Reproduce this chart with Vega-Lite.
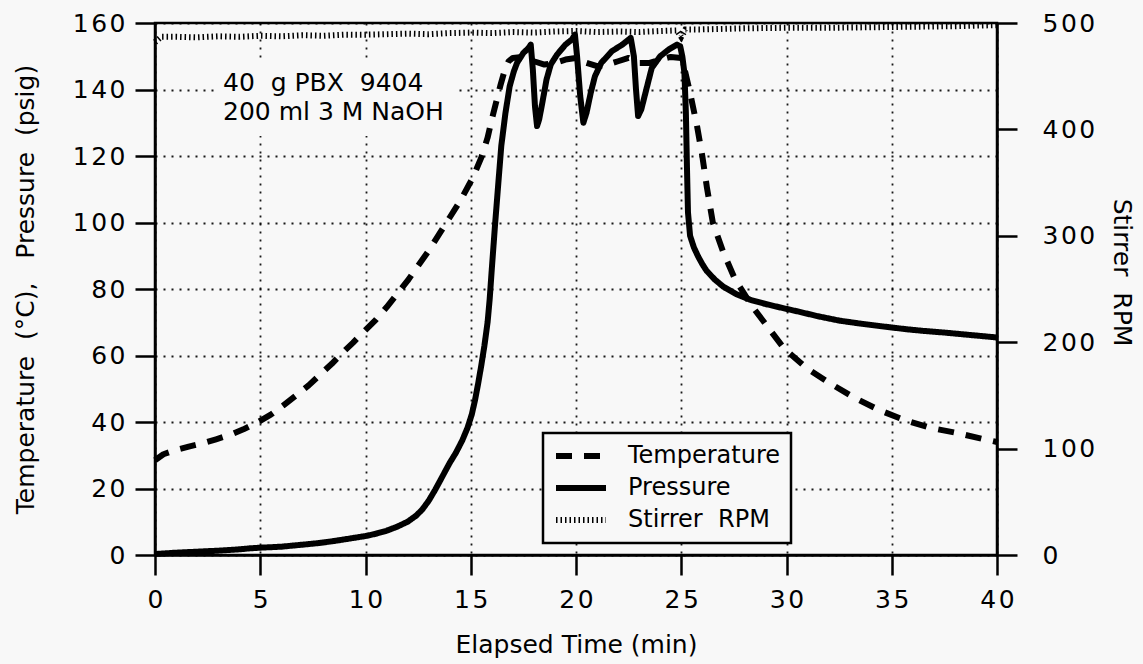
{
  "$schema": "https://vega.github.io/schema/vega-lite/v6.json",
  "autosize": {"type": "none"},
  "padding": {"left": 155, "top": 23, "right": 146, "bottom": 109},
  "width": 842,
  "height": 532,
  "background": "#f8f8f8",
  "config": {
    "view": {"stroke": "black", "strokeWidth": 2.5},
    "font": "DejaVu Sans",
    "axis": {
      "labelFont": "DejaVu Sans", "labelFontSize": 25, "labelColor": "black",
      "titleFont": "DejaVu Sans", "titleFontSize": 25, "titleFontWeight": "normal", "titleColor": "black",
      "domainColor": "black", "domainWidth": 2.5, "tickColor": "black", "tickWidth": 2.5, "tickSize": 20,
      "gridColor": "black", "gridDash": [2, 6], "gridWidth": 1.8, "gridOpacity": 0.9,
      "labelFlush": false, "labelOverlap": false,
      "labelExpr": "join(split(datum.label, ''), '\u200a')"
    },
    "legend": {
      "orient": "none", "legendX": 388, "legendY": 410,
      "padding": 10, "strokeColor": "black", "strokeWidth": 2.5, "fillColor": "#f8f8f8",
      "labelFont": "DejaVu Sans", "labelFontSize": 24, "labelColor": "black", "labelOffset": 19, "labelLimit": 400,
      "symbolSize": 2500, "symbolType": "stroke", "symbolStrokeColor": "black",
      "clipHeight": 26, "rowPadding": 6
    }
  },
  "data": {"values": [
    {"t": 0, "series": "Temperature", "v": 28.5},
    {"t": 0.4, "series": "Temperature", "v": 30.3},
    {"t": 1, "series": "Temperature", "v": 31.6},
    {"t": 1.6, "series": "Temperature", "v": 32.6},
    {"t": 2.2, "series": "Temperature", "v": 33.5},
    {"t": 2.9, "series": "Temperature", "v": 34.8},
    {"t": 3.6, "series": "Temperature", "v": 36.2},
    {"t": 4.2, "series": "Temperature", "v": 37.8},
    {"t": 4.9, "series": "Temperature", "v": 40},
    {"t": 5.5, "series": "Temperature", "v": 42.2},
    {"t": 6.1, "series": "Temperature", "v": 45},
    {"t": 6.7, "series": "Temperature", "v": 48},
    {"t": 7.3, "series": "Temperature", "v": 51},
    {"t": 7.8, "series": "Temperature", "v": 54},
    {"t": 8.4, "series": "Temperature", "v": 57.5},
    {"t": 8.9, "series": "Temperature", "v": 60.8},
    {"t": 9.4, "series": "Temperature", "v": 63.8},
    {"t": 9.9, "series": "Temperature", "v": 67},
    {"t": 10.5, "series": "Temperature", "v": 70.8},
    {"t": 11, "series": "Temperature", "v": 74.5},
    {"t": 11.5, "series": "Temperature", "v": 78.5},
    {"t": 12, "series": "Temperature", "v": 82.5},
    {"t": 12.5, "series": "Temperature", "v": 87},
    {"t": 13, "series": "Temperature", "v": 91.5},
    {"t": 13.5, "series": "Temperature", "v": 96.5},
    {"t": 14, "series": "Temperature", "v": 101.5},
    {"t": 14.5, "series": "Temperature", "v": 106.5},
    {"t": 15.1, "series": "Temperature", "v": 113.5},
    {"t": 15.5, "series": "Temperature", "v": 119.5},
    {"t": 15.8, "series": "Temperature", "v": 125.5},
    {"t": 16, "series": "Temperature", "v": 131},
    {"t": 16.2, "series": "Temperature", "v": 136},
    {"t": 16.4, "series": "Temperature", "v": 141},
    {"t": 16.6, "series": "Temperature", "v": 145.5},
    {"t": 16.8, "series": "Temperature", "v": 148.5},
    {"t": 17, "series": "Temperature", "v": 149.5},
    {"t": 17.5, "series": "Temperature", "v": 149.8},
    {"t": 18, "series": "Temperature", "v": 148.5},
    {"t": 18.5, "series": "Temperature", "v": 147.5},
    {"t": 19, "series": "Temperature", "v": 148},
    {"t": 19.5, "series": "Temperature", "v": 149},
    {"t": 20, "series": "Temperature", "v": 149.5},
    {"t": 20.5, "series": "Temperature", "v": 148},
    {"t": 21, "series": "Temperature", "v": 147},
    {"t": 21.5, "series": "Temperature", "v": 147.5},
    {"t": 22, "series": "Temperature", "v": 148.5},
    {"t": 22.5, "series": "Temperature", "v": 149.5},
    {"t": 23, "series": "Temperature", "v": 148},
    {"t": 23.5, "series": "Temperature", "v": 148},
    {"t": 24, "series": "Temperature", "v": 149},
    {"t": 24.5, "series": "Temperature", "v": 149.8},
    {"t": 25, "series": "Temperature", "v": 149.5},
    {"t": 25.2, "series": "Temperature", "v": 145},
    {"t": 25.42, "series": "Temperature", "v": 139},
    {"t": 25.75, "series": "Temperature", "v": 129},
    {"t": 26, "series": "Temperature", "v": 120},
    {"t": 26.22, "series": "Temperature", "v": 110.5},
    {"t": 26.5, "series": "Temperature", "v": 100},
    {"t": 27, "series": "Temperature", "v": 91},
    {"t": 27.55, "series": "Temperature", "v": 83},
    {"t": 28.4, "series": "Temperature", "v": 74.5},
    {"t": 29.3, "series": "Temperature", "v": 67},
    {"t": 29.9, "series": "Temperature", "v": 62},
    {"t": 31, "series": "Temperature", "v": 56},
    {"t": 32.1, "series": "Temperature", "v": 51.5},
    {"t": 33.25, "series": "Temperature", "v": 47.2},
    {"t": 34.4, "series": "Temperature", "v": 43.6},
    {"t": 35.6, "series": "Temperature", "v": 40.6},
    {"t": 36.8, "series": "Temperature", "v": 38.3},
    {"t": 38.1, "series": "Temperature", "v": 36.7},
    {"t": 39.4, "series": "Temperature", "v": 34.8},
    {"t": 40, "series": "Temperature", "v": 34},

    {"t": 0, "series": "Pressure", "v": 0.3},
    {"t": 0.5, "series": "Pressure", "v": 0.5},
    {"t": 1, "series": "Pressure", "v": 0.7},
    {"t": 2, "series": "Pressure", "v": 1},
    {"t": 3, "series": "Pressure", "v": 1.3},
    {"t": 4, "series": "Pressure", "v": 1.7},
    {"t": 4.5, "series": "Pressure", "v": 2},
    {"t": 5, "series": "Pressure", "v": 2.2},
    {"t": 6, "series": "Pressure", "v": 2.5},
    {"t": 6.5, "series": "Pressure", "v": 2.8},
    {"t": 7, "series": "Pressure", "v": 3.1},
    {"t": 7.8, "series": "Pressure", "v": 3.6},
    {"t": 8.5, "series": "Pressure", "v": 4.2},
    {"t": 9, "series": "Pressure", "v": 4.7},
    {"t": 9.5, "series": "Pressure", "v": 5.2},
    {"t": 10, "series": "Pressure", "v": 5.7},
    {"t": 10.5, "series": "Pressure", "v": 6.4},
    {"t": 11, "series": "Pressure", "v": 7.3},
    {"t": 11.5, "series": "Pressure", "v": 8.5},
    {"t": 12, "series": "Pressure", "v": 10},
    {"t": 12.4, "series": "Pressure", "v": 11.8},
    {"t": 12.7, "series": "Pressure", "v": 13.7},
    {"t": 13, "series": "Pressure", "v": 16.3},
    {"t": 13.3, "series": "Pressure", "v": 19.5},
    {"t": 13.6, "series": "Pressure", "v": 23},
    {"t": 14, "series": "Pressure", "v": 27.7},
    {"t": 14.3, "series": "Pressure", "v": 30.8},
    {"t": 14.6, "series": "Pressure", "v": 34.5},
    {"t": 14.85, "series": "Pressure", "v": 38.3},
    {"t": 15.05, "series": "Pressure", "v": 42.3},
    {"t": 15.2, "series": "Pressure", "v": 46.5},
    {"t": 15.35, "series": "Pressure", "v": 51.5},
    {"t": 15.5, "series": "Pressure", "v": 57},
    {"t": 15.65, "series": "Pressure", "v": 63},
    {"t": 15.8, "series": "Pressure", "v": 70},
    {"t": 15.9, "series": "Pressure", "v": 77},
    {"t": 16, "series": "Pressure", "v": 86},
    {"t": 16.15, "series": "Pressure", "v": 99},
    {"t": 16.3, "series": "Pressure", "v": 111},
    {"t": 16.45, "series": "Pressure", "v": 123},
    {"t": 16.65, "series": "Pressure", "v": 133},
    {"t": 16.85, "series": "Pressure", "v": 141},
    {"t": 17.05, "series": "Pressure", "v": 145.5},
    {"t": 17.2, "series": "Pressure", "v": 148},
    {"t": 17.5, "series": "Pressure", "v": 151},
    {"t": 17.75, "series": "Pressure", "v": 152.5},
    {"t": 17.85, "series": "Pressure", "v": 153.5},
    {"t": 17.95, "series": "Pressure", "v": 146},
    {"t": 18.05, "series": "Pressure", "v": 135},
    {"t": 18.15, "series": "Pressure", "v": 129},
    {"t": 18.25, "series": "Pressure", "v": 131},
    {"t": 18.4, "series": "Pressure", "v": 136},
    {"t": 18.6, "series": "Pressure", "v": 143},
    {"t": 18.8, "series": "Pressure", "v": 147.5},
    {"t": 19.1, "series": "Pressure", "v": 150.5},
    {"t": 19.5, "series": "Pressure", "v": 153.5},
    {"t": 19.8, "series": "Pressure", "v": 155},
    {"t": 19.95, "series": "Pressure", "v": 156.5},
    {"t": 20.05, "series": "Pressure", "v": 150},
    {"t": 20.2, "series": "Pressure", "v": 138},
    {"t": 20.35, "series": "Pressure", "v": 130},
    {"t": 20.5, "series": "Pressure", "v": 133},
    {"t": 20.7, "series": "Pressure", "v": 139},
    {"t": 20.9, "series": "Pressure", "v": 144},
    {"t": 21.2, "series": "Pressure", "v": 148},
    {"t": 21.7, "series": "Pressure", "v": 151.5},
    {"t": 22.2, "series": "Pressure", "v": 153.5},
    {"t": 22.6, "series": "Pressure", "v": 155.5},
    {"t": 22.75, "series": "Pressure", "v": 150},
    {"t": 22.85, "series": "Pressure", "v": 140},
    {"t": 22.95, "series": "Pressure", "v": 132},
    {"t": 23.1, "series": "Pressure", "v": 134},
    {"t": 23.3, "series": "Pressure", "v": 139},
    {"t": 23.6, "series": "Pressure", "v": 146.5},
    {"t": 24, "series": "Pressure", "v": 150},
    {"t": 24.4, "series": "Pressure", "v": 152},
    {"t": 24.8, "series": "Pressure", "v": 153.5},
    {"t": 24.95, "series": "Pressure", "v": 153},
    {"t": 25.05, "series": "Pressure", "v": 150},
    {"t": 25.15, "series": "Pressure", "v": 145},
    {"t": 25.22, "series": "Pressure", "v": 133},
    {"t": 25.27, "series": "Pressure", "v": 117},
    {"t": 25.32, "series": "Pressure", "v": 103},
    {"t": 25.42, "series": "Pressure", "v": 96},
    {"t": 25.6, "series": "Pressure", "v": 92.5},
    {"t": 25.8, "series": "Pressure", "v": 89.8},
    {"t": 26, "series": "Pressure", "v": 87.5},
    {"t": 26.2, "series": "Pressure", "v": 85.5},
    {"t": 26.6, "series": "Pressure", "v": 82.8},
    {"t": 27, "series": "Pressure", "v": 80.7},
    {"t": 27.6, "series": "Pressure", "v": 78.5},
    {"t": 28.3, "series": "Pressure", "v": 76.7},
    {"t": 29, "series": "Pressure", "v": 75.5},
    {"t": 29.8, "series": "Pressure", "v": 74.3},
    {"t": 30.5, "series": "Pressure", "v": 73.3},
    {"t": 31.5, "series": "Pressure", "v": 71.8},
    {"t": 32.5, "series": "Pressure", "v": 70.5},
    {"t": 33.5, "series": "Pressure", "v": 69.6},
    {"t": 34.5, "series": "Pressure", "v": 68.8},
    {"t": 35.7, "series": "Pressure", "v": 67.9},
    {"t": 36.5, "series": "Pressure", "v": 67.4},
    {"t": 37.5, "series": "Pressure", "v": 66.9},
    {"t": 38.5, "series": "Pressure", "v": 66.3},
    {"t": 39.7, "series": "Pressure", "v": 65.6},
    {"t": 40, "series": "Pressure", "v": 65.4},

    {"t": 0, "series": "Stirrer\u00a0 RPM", "v": 482},
    {"t": 0.3, "series": "Stirrer\u00a0 RPM", "v": 487},
    {"t": 1, "series": "Stirrer\u00a0 RPM", "v": 487},
    {"t": 2, "series": "Stirrer\u00a0 RPM", "v": 486.5},
    {"t": 3, "series": "Stirrer\u00a0 RPM", "v": 487.5},
    {"t": 4, "series": "Stirrer\u00a0 RPM", "v": 487},
    {"t": 5, "series": "Stirrer\u00a0 RPM", "v": 488},
    {"t": 6, "series": "Stirrer\u00a0 RPM", "v": 487.5},
    {"t": 7, "series": "Stirrer\u00a0 RPM", "v": 488.5},
    {"t": 8, "series": "Stirrer\u00a0 RPM", "v": 488},
    {"t": 9, "series": "Stirrer\u00a0 RPM", "v": 489},
    {"t": 10, "series": "Stirrer\u00a0 RPM", "v": 489},
    {"t": 11, "series": "Stirrer\u00a0 RPM", "v": 489.5},
    {"t": 12, "series": "Stirrer\u00a0 RPM", "v": 490},
    {"t": 13, "series": "Stirrer\u00a0 RPM", "v": 489.5},
    {"t": 14, "series": "Stirrer\u00a0 RPM", "v": 490.5},
    {"t": 15, "series": "Stirrer\u00a0 RPM", "v": 491},
    {"t": 16, "series": "Stirrer\u00a0 RPM", "v": 490.5},
    {"t": 17, "series": "Stirrer\u00a0 RPM", "v": 491.5},
    {"t": 18, "series": "Stirrer\u00a0 RPM", "v": 491},
    {"t": 19, "series": "Stirrer\u00a0 RPM", "v": 492},
    {"t": 20, "series": "Stirrer\u00a0 RPM", "v": 492.5},
    {"t": 21, "series": "Stirrer\u00a0 RPM", "v": 491.5},
    {"t": 22, "series": "Stirrer\u00a0 RPM", "v": 492},
    {"t": 23, "series": "Stirrer\u00a0 RPM", "v": 491.5},
    {"t": 24, "series": "Stirrer\u00a0 RPM", "v": 492.5},
    {"t": 24.8, "series": "Stirrer\u00a0 RPM", "v": 493},
    {"t": 25, "series": "Stirrer\u00a0 RPM", "v": 487},
    {"t": 25.2, "series": "Stirrer\u00a0 RPM", "v": 494},
    {"t": 26, "series": "Stirrer\u00a0 RPM", "v": 494},
    {"t": 27, "series": "Stirrer\u00a0 RPM", "v": 494.5},
    {"t": 28, "series": "Stirrer\u00a0 RPM", "v": 495},
    {"t": 30, "series": "Stirrer\u00a0 RPM", "v": 495.5},
    {"t": 32, "series": "Stirrer\u00a0 RPM", "v": 495.5},
    {"t": 34, "series": "Stirrer\u00a0 RPM", "v": 496},
    {"t": 36, "series": "Stirrer\u00a0 RPM", "v": 496.5},
    {"t": 38, "series": "Stirrer\u00a0 RPM", "v": 497},
    {"t": 40, "series": "Stirrer\u00a0 RPM", "v": 498}
  ]},
  "layer": [
    {
      "layer": [
        {
          "data": {"values": [{"x": 3.0, "x2": 14.25, "y": 126, "y2": 149}]},
          "mark": {"type": "rect", "fill": "#f8f8f8"},
          "encoding": {
            "x": {"field": "x", "type": "quantitative"},
            "x2": {"field": "x2"},
            "y": {"field": "y", "type": "quantitative"},
            "y2": {"field": "y2"}
          }
        },
        {
          "data": {"values": [{"x": 3.23, "y": 139.5}]},
          "mark": {"type": "text", "text": ["40\u00a0 g PBX\u00a0 9404", "200 ml 3 M NaOH"], "align": "left", "baseline": "alphabetic", "font": "DejaVu Sans", "fontSize": 25, "lineHeight": 29, "color": "black"},
          "encoding": {
            "x": {"field": "x", "type": "quantitative"},
            "y": {"field": "y", "type": "quantitative"}
          }
        },
        {
          "transform": [{"filter": "datum.series !== 'Stirrer\u00a0 RPM'"}],
          "mark": {"type": "line", "color": "black", "strokeCap": "butt", "strokeJoin": "round"},
          "encoding": {
            "x": {"field": "t", "type": "quantitative",
                  "scale": {"domain": [0, 40], "nice": false, "zero": false},
                  "axis": {"values": [0, 5, 10, 15, 20, 25, 30, 35, 40], "grid": true, "title": "Elapsed Time (min)", "titleX": 421, "titleY": 97, "titleBaseline": "alphabetic", "labelPadding": 12}},
            "y": {"field": "v", "type": "quantitative",
                  "scale": {"domain": [0, 160], "nice": false, "zero": false},
                  "axis": {"orient": "left", "values": [0, 20, 40, 60, 80, 100, 120, 140, 160], "grid": true,
                           "title": "Temperature\u00a0 (°C),\u00a0\u00a0 Pressure\u00a0 (psig)",
                           "titleAngle": 270, "titleAlign": "center", "titleBaseline": "alphabetic", "titleX": -122, "titleY": 266, "labelPadding": 10}},
            "strokeDash": {"field": "series", "type": "nominal",
                           "scale": {"domain": ["Temperature", "Pressure", "Stirrer\u00a0 RPM"], "range": [[16, 12], [1, 0], [1.5, 3]]},
                           "legend": {"title": null}},
            "strokeWidth": {"field": "series", "type": "nominal",
                            "scale": {"domain": ["Temperature", "Pressure", "Stirrer\u00a0 RPM"], "range": [6, 6, 1.5]},
                            "legend": {"title": null}}
          }
        }
      ]
    },
    {
      "transform": [{"filter": "datum.series === 'Stirrer\u00a0 RPM'"}],
      "mark": {"type": "line", "color": "black", "strokeCap": "butt"},
      "encoding": {
        "x": {"field": "t", "type": "quantitative"},
        "y": {"field": "v", "type": "quantitative",
              "scale": {"domain": [0, 500], "nice": false, "zero": false},
              "axis": {"orient": "right", "values": [0, 100, 200, 300, 400, 500], "grid": false,
                       "title": "Stirrer\u00a0 RPM", "titleAngle": 90, "titleAlign": "center", "titleBaseline": "alphabetic", "titleX": 116, "titleY": 249, "labelPadding": 25}},
        "strokeDash": {"field": "series", "type": "nominal",
                       "scale": {"domain": ["Temperature", "Pressure", "Stirrer\u00a0 RPM"], "range": [[16, 12], [1, 0], [1.5, 3]]},
                       "legend": {"title": null}},
        "strokeWidth": {"field": "series", "type": "nominal",
                        "scale": {"domain": ["Temperature", "Pressure", "Stirrer\u00a0 RPM"], "range": [6, 6, 1.5]},
                        "legend": {"title": null}}
      }
    }
  ],
  "resolve": {"scale": {"y": "independent"}}
}
